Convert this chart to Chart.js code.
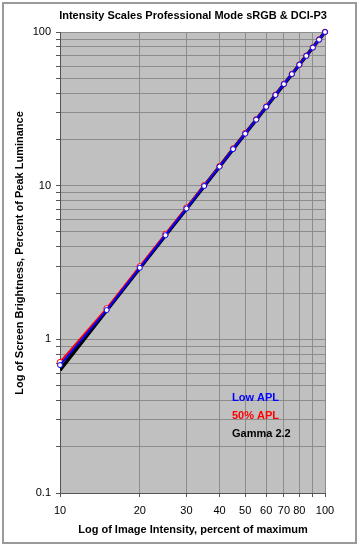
<!DOCTYPE html>
<html>
<head>
<meta charset="utf-8">
<script src="https://cdn.jsdelivr.net/npm/chart.js@4/dist/chart.umd.min.js"></script>
<style>
html,body{margin:0;padding:0;background:#fff;}
#wrap{width:360px;height:550px;position:relative;}
</style>
</head>
<body>
<div id="wrap"><canvas id="c" width="360" height="550"></canvas></div>
<script>
// ---- data ----
const intensity = [10,15,20,25,30,35,40,45,50,55,60,65,70,75,80,85,90,95,100];
const lowAPL    = [0.68,1.55,2.92,4.76,7.1,9.95,13.3,17.3,21.8,26.9,32.6,38.9,45.8,53.2,61.2,69.9,79.2,89.2,100];
const apl50     = [0.71,1.59,2.98,4.85,7.2,10.05,13.4,17.45,21.95,27.0,32.7,39.0,45.9,53.3,61.3,70.0,79.3,89.3,100];
const gamma22   = [0.631,1.54,2.90,4.74,7.07,9.93,13.3,17.3,21.8,26.8,32.5,38.8,45.6,53.1,61.2,69.9,79.3,89.3,100];
const xTicks = [10,20,30,40,50,60,70,80,90,100];
const xTickLabels = ['10','20','30','40','50','60','70','80','','100'];
const yTicks = [0.1,0.2,0.3,0.4,0.5,0.6,0.7,0.8,0.9,1,2,3,4,5,6,7,8,9,10,20,30,40,50,60,70,80,90,100];
const yTickLabels = {0.1:'0.1',1:'1',10:'10',100:'100'};
const titleText = 'Intensity Scales Professional Mode sRGB & DCI-P3';
const xTitle = 'Log of Image Intensity, percent of maximum';
const yTitle = 'Log of Screen Brightness, Percent of Peak Luminance';

const FONT = "Arial, 'Liberation Sans', sans-serif";
const pts = arr => intensity.map((x,i)=>({x:x,y:arr[i]}));

const decor = {
  id:'decor',
  beforeDraw(chart){
    const ctx = chart.ctx;
    ctx.save();
    ctx.fillStyle='#fff';
    ctx.fillRect(0,0,chart.width,chart.height);
    const a = chart.chartArea;
    ctx.fillStyle='#c0c0c0';
    ctx.fillRect(a.left,a.top,a.right-a.left,a.bottom-a.top);
    ctx.strokeStyle='#9a9a9a';
    ctx.lineWidth=2;
    ctx.strokeRect(3,3,353,540);
    ctx.restore();
  },
  afterDraw(chart){
    const ctx = chart.ctx;
    ctx.save();
    ctx.fillStyle='#000';
    ctx.font = "bold 11px "+FONT;
    ctx.textAlign='center';
    ctx.textBaseline='middle';
    ctx.fillText(titleText, 193, 16);
    ctx.fillText(xTitle, 193, 530);
    ctx.save();
    ctx.translate(20, 253);
    ctx.rotate(-Math.PI/2);
    ctx.fillText(yTitle, 0, 0);
    ctx.restore();
    // legend
    ctx.font = "bold 11px "+FONT;
    ctx.textAlign='left';
    chart.data.datasets.forEach((ds,i)=>{
      ctx.fillStyle = ds.borderColor;
      ctx.fillText(ds.label, 232, 398 + i*18);
    });
    ctx.restore();
  }
};

new Chart(document.getElementById('c'), {
  type:'scatter',
  data:{
    datasets:[
      {label:'Low APL', data:pts(lowAPL), showLine:true, borderColor:'#0000ff', borderWidth:2,
       pointRadius:2.5, pointBackgroundColor:'#ffffff', pointBorderColor:'#0000ff', pointBorderWidth:1, order:1, clip:false},
      {label:'50% APL', data:pts(apl50), showLine:true, borderColor:'#ff0000', borderWidth:2,
       pointRadius:2.8, pointBackgroundColor:'#ffffff', pointBorderColor:'#ff0000', pointBorderWidth:1, order:2, clip:false},
      {label:'Gamma 2.2', data:pts(gamma22), showLine:true, borderColor:'#000000', borderWidth:3.5,
       pointRadius:0, order:3}
    ]
  },
  options:{
    responsive:false,
    animation:false,
    layout:{padding:{top:32,right:35,left:0,bottom:0}},
    plugins:{legend:{display:false},title:{display:false},tooltip:{enabled:false}},
    scales:{
      x:{
        type:'logarithmic', min:10, max:100,
        afterBuildTicks(s){ s.ticks = xTicks.map(v=>({value:v})); },
        afterFit(s){ s.height = 57; },
        ticks:{autoSkip:false, maxRotation:0, color:'#000', padding:7,
          font:{family:FONT,size:11},
          callback:(v,i)=>xTickLabels[i]},
        grid:{color:'#8c8c8c', lineWidth:1, drawTicks:true, tickLength:4, tickColor:'#555'},
        border:{display:true, color:'#555'}
      },
      y:{
        type:'logarithmic', min:0.1, max:100,
        afterBuildTicks(s){ s.ticks = yTicks.map(v=>({value:v})); },
        afterFit(s){ s.width = 60; },
        ticks:{autoSkip:false, color:'#000', padding:5,
          font:{family:FONT,size:11},
          callback:(v)=> (yTickLabels[v]!==undefined ? yTickLabels[v] : '')},
        grid:{color:'#8c8c8c', lineWidth:1, drawTicks:true, tickLength:4, tickColor:'#555'},
        border:{display:true, color:'#555'}
      }
    }
  },
  plugins:[decor]
});
</script>
</body>
</html>
